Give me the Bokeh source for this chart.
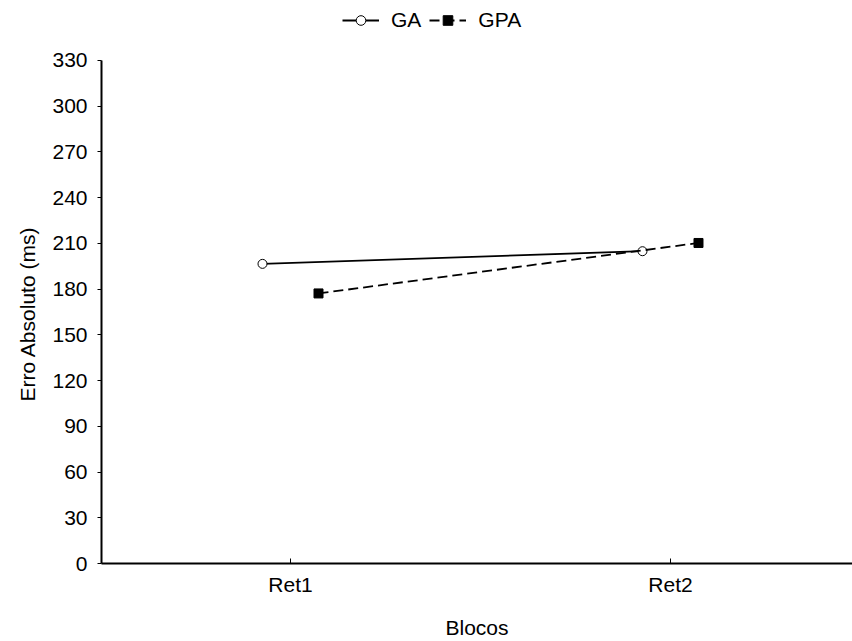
from bokeh.plotting import figure
from bokeh.models import Range1d, FixedTicker, Legend, LegendItem, Title
from bokeh.embed import file_html
from bokeh.resources import INLINE

# Absolute error (ms) per block for each group
blocks = ["Ret1", "Ret2"]
ga_values = [196.5, 204.8]
gpa_values = [177.1, 210.2]
y_ticks = [0, 30, 60, 90, 120, 150, 180, 210, 240, 270, 300, 330]

FONT = "Liberation Sans"
FS = "21px"

block_pos = list(range(1, len(blocks) + 1))
shift = 0.0737  # horizontal dodge so the two groups don't overlap
ga_x = [x - shift for x in block_pos]
gpa_x = [x + shift for x in block_pos]

# the frame runs from the top edge down to 565 px; 330 ms sits at 60 px,
# leaving room above the axis for the legend
BOTTOM = 565
px_per_unit = (BOTTOM - 60) / 330
y_end = 330 + 60 / px_per_unit

p = figure(width=852, height=641, output_backend="svg", toolbar_location=None,
           x_range=Range1d(0.5026, 2.479), y_range=Range1d(0, y_end),
           min_border_left=101, min_border_right=0, min_border_top=0,
           min_border_bottom=641 - BOTTOM)
p.outline_line_color = None
p.xgrid.visible = False
p.ygrid.visible = False
p.background_fill_color = "white"
p.border_fill_color = "white"

ga_line = p.line(ga_x, ga_values, line_color="black", line_width=1.8)
ga_pts = p.scatter(ga_x, ga_values, marker="circle", size=9,
                   fill_color="white", line_color="black", line_width=1)
gpa_line = p.line(gpa_x, gpa_values, line_color="black", line_width=1.8,
                  line_dash="10 5")
gpa_pts = p.scatter(gpa_x, gpa_values, marker="square", size=9,
                    fill_color="black", line_color="black")

# x axis
xa = p.xaxis[0]
xa.ticker = FixedTicker(ticks=block_pos)
xa.major_label_overrides = {i: b for i, b in zip(block_pos, blocks)}
xa.minor_tick_line_color = None
xa.major_tick_in = 5
xa.major_tick_out = 0
xa.major_label_standoff = 9
xa.axis_label = "Blocos"
xa.axis_label_standoff = 17
xa.axis_label_text_font = FONT
xa.axis_label_text_font_size = FS
xa.axis_label_text_font_style = "normal"
xa.axis_label_text_color = "black"

# y axis, drawn only up to 330
ya = p.yaxis[0]
ya.ticker = FixedTicker(ticks=y_ticks)
ya.bounds = (0, 330)
ya.minor_tick_line_color = None
ya.major_tick_in = 0
ya.major_tick_out = 4
ya.major_label_standoff = 10

for ax in (xa, ya):
    ax.axis_line_width = 2
    ax.axis_line_color = "black"
    ax.major_tick_line_color = "black"
    ax.major_tick_line_width = 1
    ax.major_label_text_font = FONT
    ax.major_label_text_font_size = FS
    ax.major_label_text_color = "black"

# y axis title, placed along the drawn part of the axis (offset from the bottom)
y_title = Title(text="Erro Absoluto (ms)", align="left", offset=162,
                standoff=22, text_font=FONT, text_font_size=FS,
                text_font_style="normal", text_color="black")
p.add_layout(y_title, "left")

legend = Legend(items=[LegendItem(label="GA", renderers=[ga_line, ga_pts]),
                       LegendItem(label="GPA", renderers=[gpa_line, gpa_pts])],
                orientation="horizontal", location=(241, BOTTOM - 34),
                glyph_width=37, glyph_height=24, label_height=24,
                label_standoff=12, spacing=8,
                padding=0, margin=0, border_line_color=None,
                background_fill_alpha=0,
                label_text_font=FONT, label_text_font_size=FS,
                label_text_color="black")
p.add_layout(legend, "center")

open("out.html", "w").write(file_html(p, INLINE))
